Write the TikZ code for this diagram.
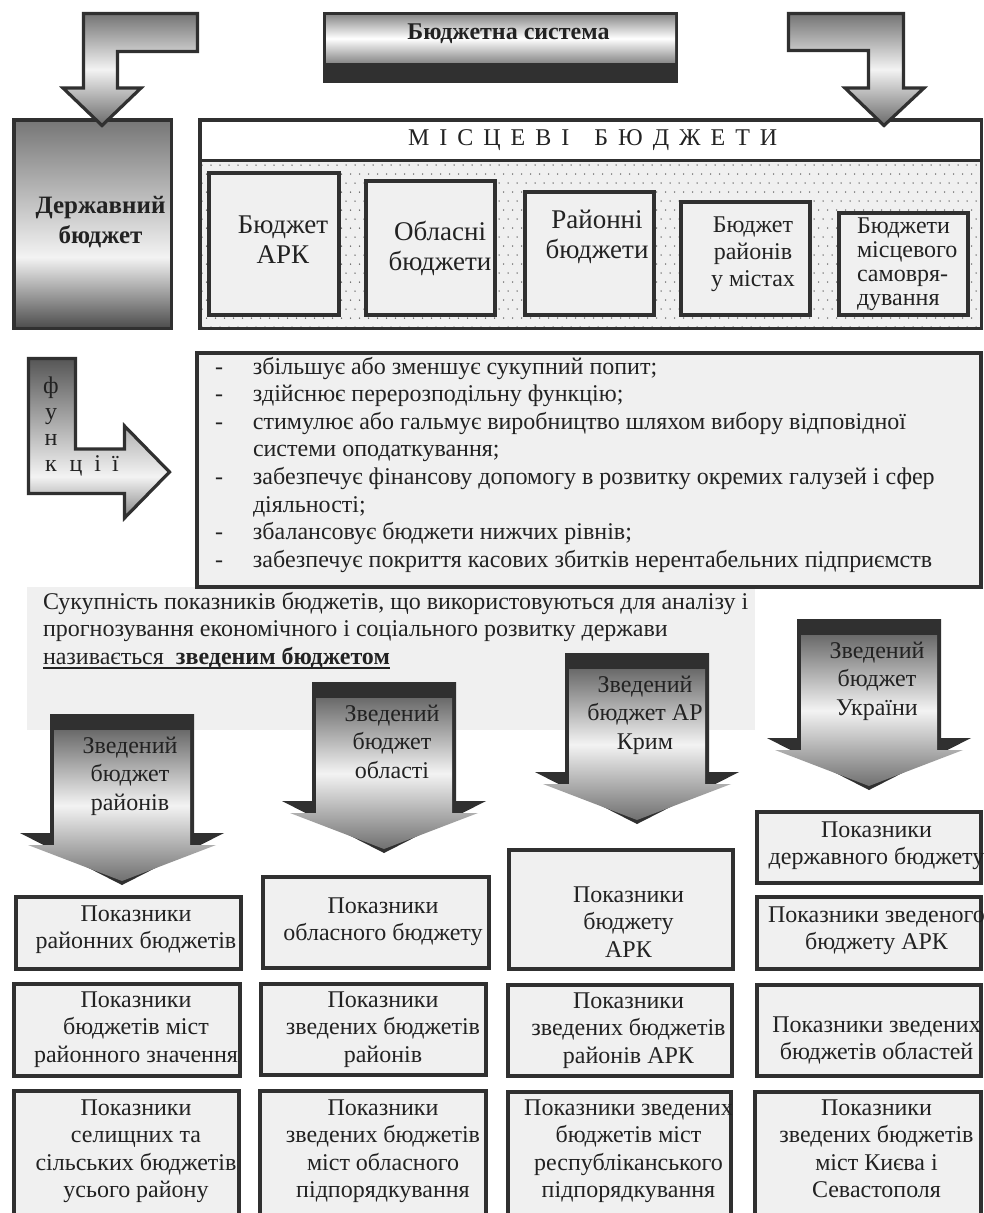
\documentclass[tikz,border=0pt]{standalone}
\usepackage{fontspec}
\setmainfont{Liberation Serif}

\definecolor{ink}{HTML}{303030}
\definecolor{panel}{HTML}{F0F0F0}
\definecolor{textc}{HTML}{222222}
\definecolor{dotc}{HTML}{5A5A5A}
\definecolor{gTop}{HTML}{747474}
\definecolor{gMid}{HTML}{F3F3F3}
\definecolor{gBot}{HTML}{6A6A6A}
\definecolor{dTop}{HTML}{6A6A6A}
\definecolor{dBot}{HTML}{707070}
\definecolor{sysT}{HTML}{8C8C8C}
\definecolor{sTop}{HTML}{767676}
\definecolor{sBot}{HTML}{4C4C4C}
\definecolor{fTop}{HTML}{565656}
\definecolor{fBot}{HTML}{858585}

% vertical shadings: 25bp = lower edge of the path, 75bp = upper edge
\pgfdeclareverticalshading{stateshade}{100bp}{color(0bp)=(sBot); color(25bp)=(sBot); color(42bp)=(gMid); color(75bp)=(sTop); color(100bp)=(sTop)}
\pgfdeclareverticalshading{funcshade}{100bp}{color(0bp)=(fBot); color(25bp)=(fBot); color(38bp)=(gMid); color(75bp)=(fTop); color(100bp)=(fTop)}

\newcommand\ftn{\fontsize{24}{27.6}\selectfont}
\newcommand\fbig{\fontsize{27}{30.5}\selectfont}
\newcommand\itemdash{\makebox[38pt][l]{-}}
\newcommand\lsp{\hspace{10pt}}
\newcommand\ulinetext[1]{\setbox0=\hbox{#1}\rlap{\rule[-4.5pt]{\wd0}{1.4pt}}\box0}

% multi-line nodes sit on the baseline of their last line
\tikzset{
  x=1pt, y=-1pt,
  txt/.style={inner sep=0pt, outer sep=0pt, anchor=base, align=center, font=\ftn, text=textc},
  pbox/.style={draw=ink, line width=3.6pt, fill=panel, inner sep=0pt, outer sep=0pt, anchor=north west},
  fatarrow/.style={draw=ink, line width=3.2pt, top color=gTop, bottom color=gBot, middle color=gMid},
}

% box given by its outer edges: name, x1, y1, x2, y2
\newcommand\pbx[5]{\node[pbox, minimum width={#4-#2-3.6}, minimum height={#5-#3-3.6}] (#1) at ({#2+1.8},{#3+1.8}) {};}

% downward block arrow with a dark top face: left x, top y
\newcommand\sumarrow[2]{%
  \begin{scope}[shift={(#1,#2)}]
    \fill[ink] (0,0) -- (144,0) -- (144,119) -- (174,119) -- (72,171) -- (-30,119) -- (0,119) -- cycle;
    \shade[top color=dTop, bottom color=dBot, middle color=gMid]
      (4,16) -- (140,16) -- (140,131) -- (166,131) -- (72,167) -- (-22,131) -- (4,131) -- cycle;
  \end{scope}}

\begin{document}
\begin{tikzpicture}
\useasboundingbox (0,0) rectangle (983,1213);
\fill[white] (0,0) rectangle (983,1213);

% ---------- budget system banner
\fill[ink] (323,12) rectangle (678,83);
\shade[top color=sysT, bottom color=sysT, middle color=white] (326,15) rectangle (675,62);
\node[txt, font=\fontsize{24}{28}\selectfont\bfseries] (system) at (508.5,39) {Бюджетна система};

% ---------- state budget
\shadedraw[shading=stateshade, draw=ink, line width=3.5pt] (13.75,119.75) rectangle (171.25,328.25);
\node[txt, font=\fontsize{25}{30}\selectfont\bfseries] (state) at (100.5,243) {Державний\\бюджет};

% ---------- local budgets frame
\fill[white] (198,118) rectangle (983,160);
\fill[panel] (198,160) rectangle (983,330);
\begin{scope}
  \clip (200,162) rectangle (981,328);
  \foreach \r in {0,...,18}{
    \foreach \c in {0,...,87}{
      \fill[dotc] ({202+9*\c+4.5*mod(\r,2)},{165+9*\r}) circle[radius=0.75pt];
    }
  }
\end{scope}
\draw[ink, line width=3pt] (198,160) -- (983,160);
\draw[ink, line width=3.5pt] (199.75,119.75) rectangle (981.25,328.25);
\node[txt, anchor=base west] (localtitle) at (408,145)
  {М\lsp І\lsp С\lsp Ц\lsp Е\lsp В\lsp І\hspace{25pt}Б\lsp Ю\lsp Д\lsp Ж\lsp Е\lsp Т\lsp И};

\pbx{arc}{207}{171}{341}{317}
\pbx{regions}{364}{179}{497}{317}
\pbx{districts}{523}{190}{656}{317}
\pbx{citydistricts}{679}{200}{812}{317}
\pbx{selfgov}{837}{211}{970}{317}
\node[txt, font=\fbig] (arc-t) at (283,263.5) {Бюджет\\АРК};
\node[txt, font=\fbig] (regions-t) at (440,270.5) {Обласні\\бюджети};
\node[txt, font=\fbig] (districts-t) at (597,258.5) {Районні\\бюджети};
\node[txt, font=\fontsize{24}{27}\selectfont] (citydistricts-t) at (753,286) {Бюджет\\районів\\у містах};
\node[txt, anchor=base west, align=left, font=\fontsize{24}{24}\selectfont] (selfgov-t) at (857,305)
  {Бюджети\\місцевого\\самовря-\\дування};

% ---------- arrows from the banner
\shadedraw[fatarrow] (83.5,13.5) -- (197.5,13.5) -- (197.5,51.5) -- (117.5,51.5) -- (117.5,88)
  -- (141,88) -- (102,125.5) -- (63,88) -- (83.5,88) -- cycle;
\shadedraw[fatarrow] (788.5,13.5) -- (903.5,13.5) -- (903.5,88) -- (924,88) -- (884,125.5)
  -- (845,88) -- (868.5,88) -- (868.5,50.5) -- (788.5,50.5) -- cycle;

% ---------- functions
\fill[panel] (27,587) rectangle (755,730);
\pbx{funcbox}{195}{351}{983}{589}
\node[txt, anchor=base west, align=left] (funclist) at (215,567.2)
  {\itemdash збільшує або зменшує сукупний попит;\\
   \itemdash здійснює перерозподільну функцію;\\
   \itemdash стимулює або гальмує виробництво шляхом вибору відповідної\\
   \hspace*{38pt}системи оподаткування;\\
   \itemdash забезпечує фінансову допомогу в розвитку окремих галузей і сфер\\
   \hspace*{38pt}діяльності;\\
   \itemdash збалансовує бюджети нижчих рівнів;\\
   \itemdash забезпечує покриття касових збитків нерентабельних підприємств};

\shadedraw[shading=funcshade, draw=ink, line width=3.2pt]
  (28.5,358.5) -- (75.5,358.5) -- (75.5,449) -- (124.5,449) -- (124.5,426) -- (169.5,472)
  -- (124.5,518) -- (124.5,493.5) -- (28.5,493.5) -- cycle;
\node[txt, font=\fontsize{24}{26}\selectfont] (func-v) at (51,445) {ф\\у\\н};
\node[txt, anchor=base west] (func-h) at (45,471) {к\hspace{13pt}ц\hspace{12pt}і\hspace{11pt}ї};

% ---------- consolidated budget definition
\node[txt, anchor=base west, align=left] (definition) at (43,664.2)
  {Сукупність показників бюджетів, що використовуються для аналізу і\\
   прогнозування економічного і соціального розвитку держави\\
   \ulinetext{називається\ \ \textbf{зведеним бюджетом}}};

% ---------- consolidated budget arrows
\sumarrow{50}{714}
\sumarrow{312}{682}
\sumarrow{565}{653}
\sumarrow{797}{619}
\node[txt, font=\fontsize{24}{28.5}\selectfont] (sum-d) at (130,810) {Зведений\\бюджет\\районів};
\node[txt, font=\fontsize{24}{28.5}\selectfont] (sum-o) at (392,778) {Зведений\\бюджет\\області};
\node[txt, font=\fontsize{24}{28.5}\selectfont] (sum-c) at (645,749) {Зведений\\бюджет АР\\Крим};
\node[txt, font=\fontsize{24}{28.5}\selectfont] (sum-u) at (877,715) {Зведений\\бюджет\\України};

% ---------- indicator boxes
\pbx{c1a}{14}{895}{243}{971}
\pbx{c1b}{12}{982}{242}{1078}
\pbx{c1c}{12}{1089}{241}{1235}
\pbx{c2a}{261}{875}{491}{970}
\pbx{c2b}{259}{982}{488}{1077}
\pbx{c2c}{258}{1089}{488}{1235}
\pbx{c3a}{507}{848}{735}{971}
\pbx{c3b}{506}{983}{734}{1078}
\pbx{c3c}{506}{1090}{733}{1235}
\pbx{c4a}{755}{810}{983}{885}
\pbx{c4b}{755}{895}{983}{971}
\pbx{c4c}{755}{983}{983}{1078}
\pbx{c4d}{753}{1090}{983}{1235}

\node[txt] (c1a-t) at (136,948.6) {Показники\\районних бюджетів};
\node[txt] (c1b-t) at (136,1062.2) {Показники\\бюджетів міст\\районного значення};
\node[txt] (c1c-t) at (136,1197.8) {Показники\\селищних та\\сільських бюджетів\\усього району};
\node[txt] (c2a-t) at (383,940.6) {Показники\\обласного бюджету};
\node[txt] (c2b-t) at (383,1062.2) {Показники\\зведених бюджетів\\районів};
\node[txt] (c2c-t) at (383,1197.8) {Показники\\зведених бюджетів\\міст обласного\\підпорядкування};
\node[txt] (c3a-t) at (628.5,957.2) {Показники\\бюджету\\АРК};
\node[txt] (c3b-t) at (628.5,1063.2) {Показники\\зведених бюджетів\\районів АРК};
\node[txt] (c3c-t) at (628.5,1197.8) {Показники зведених\\бюджетів міст\\республіканського\\підпорядкування};
\node[txt] (c4a-t) at (876.5,864.6) {Показники\\державного бюджету};
\node[txt] (c4b-t) at (876.5,949.6) {Показники зведеного\\бюджету АРК};
\node[txt] (c4c-t) at (876.5,1059.6) {Показники зведених\\бюджетів областей};
\node[txt] (c4d-t) at (876.5,1197.8) {Показники\\зведених бюджетів\\міст Києва і\\Севастополя};
\end{tikzpicture}
\end{document}
